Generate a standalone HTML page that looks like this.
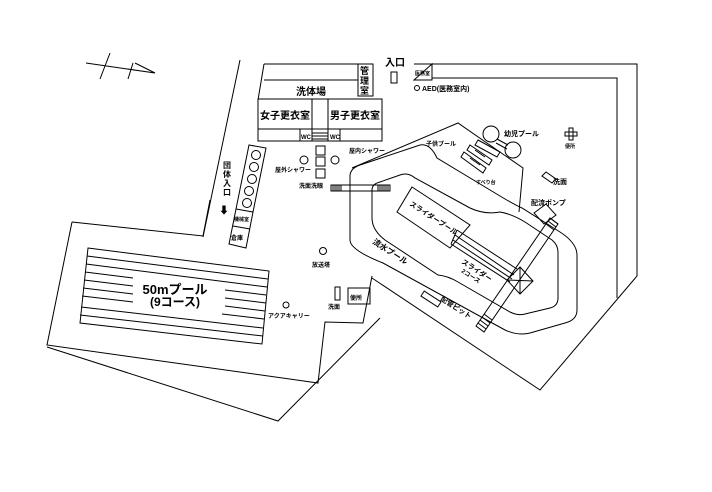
<!DOCTYPE html>
<html><head><meta charset="utf-8"><style>
html,body{margin:0;padding:0;background:#fff;}
svg{display:block;}
text{font-family:"Liberation Sans","Noto Sans CJK JP",sans-serif;font-weight:bold;fill:#000;}
</style></head><body>
<svg width="712" height="492" viewBox="0 0 712 492" xmlns="http://www.w3.org/2000/svg">
<g fill="none" stroke="#000" stroke-width="1">
<path d="M86,63 L155,73 L135,63 M110,53 L100,79 M133,63 L128,79"/>
<path d="M240,60 L203,237"/>
<path d="M72,222 L203,236 L210,200 M72,222 L47,345 L318,383 L325,322 L363,323 L372,276 M47,347 L278,421 L380,318"/>
<path d="M88,248 L269,271 L262,344 L80,323 Z"/>
<path d="M87,256 L268,279 M86,264 L267,287 M85,272 L133,278 M225,290 L266,295 M84,280 L133,286 M225,298 L266,303 M83,288 L133,294 M225,306 L265,311 M82,296 L133,302 M222,314 L264,319 M81,307 L263,328 M80,315 L263,336"/>
<path d="M264,64 L373,64 L373,96 L358,96 L358,64 M358,80 L264,80 M264,64 L258,100"/>
<rect x="258" y="99" width="124" height="42"/>
<path d="M258,129 L382,129 M312,99 L312,141 M328,99 L328,141 M300,129 L300,141 M340,129 L340,141 M312,133 L328,133 M312,136 L328,136 M312,139 L328,139"/>
<rect x="391" y="72" width="6" height="11"/>
<path d="M414,64 L637,64 L637,276 L540,390 L372,278 M432,64 L432,80 L414,80 Z M432,78 L617,78 L617,298"/>
<circle cx="417" cy="88" r="2.5"/>
<path d="M249,145 L266,148 L253,212 L236,209 Z M236,209 L229,244 L246,248 L253,212 M233,226 L250,229"/>
<circle cx="256" cy="155" r="4.5"/><circle cx="254" cy="167" r="4.5"/><circle cx="252" cy="179" r="4.5"/><circle cx="249" cy="191" r="4.5"/><circle cx="247" cy="203" r="4.5"/>
<rect x="316" y="146" width="9" height="9"/><rect x="316" y="157" width="9" height="9"/><rect x="316" y="169" width="9" height="9"/>
<circle cx="304" cy="160" r="4"/><circle cx="335" cy="160" r="4"/>
<circle cx="323" cy="251" r="3.5"/><circle cx="286" cy="305" r="3"/>
<rect x="335" y="287" width="5" height="13"/><rect x="348" y="288" width="22" height="16"/>
<rect x="331" y="185" width="59" height="6"/>
<path d="M333,185v6M335,185v6M337,185v6M339,185v6M341,185v6M378,185v6M380,185v6M382,185v6M384,185v6M386,185v6M388,185v6"/>
<path d="M352,168 L458,123 L523,168 L519,212"/>
<path d="M350,240 L350,175 Q351,168 360,165 L420,145 Q430,143 437,158 L500,196 Q515,205 522,208 L560,232 Q577,243 577,255 L577,310 Q577,320 565,323 L530,333 Q518,336 505,330 L383,263 Q350,250 350,240 Z"/>
<path d="M372,218 L372,190 Q372,184 380,182 L400,175 Q408,172 415,178 L470,208 Q485,215 500,212 Q512,214 525,222 L552,240 Q558,245 558,252 L558,298 Q558,306 550,308 L525,314 Q518,316 510,312 L458,282 Q448,276 438,275 L385,240 Q372,230 372,218 Z"/>
<path d="M412,187 L470,225 L450,248 L397,212 Z"/>
<path d="M457,230 L517,269 M455,235 L514,275 M453,240 L512,279 M451,244 L510,282 M457,230 L451,244"/>
<path d="M476,326 L550,218 L558,224 L484,332 Z"/>
<path d="M478,323l8,6M480,320l8,6M482,317l8,6M484,314l8,6M546,224l8,6M548,221l8,6M550,218l8,6"/>
<path d="M507,280 L520,267 L533,281 L520,294 Z M507,280 L533,281 M520,267 L520,294"/>
<rect x="-10" y="-3" width="20" height="6" transform="translate(431,299) rotate(33)"/>
<path d="M478,140 L500,152 L497,157 L475,145 Z M470,145 L492,160 L489,165 L467,150 Z M464,152 L486,168 L483,173 L461,157 Z M470,158 L480,165 M475,150 L485,157"/>
<circle cx="491" cy="134" r="8"/><circle cx="513" cy="150" r="8"/>
<path d="M497,139 L508,145 M496,143 L507,149"/>
<path d="M569,128h4v4h4v4h-4v4h-4v-4h-4v-4h4z M569,132h4v4h-4z"/>
<path d="M542,176 L546,172 L556,179 L552,183 Z"/>
<path d="M534,213 L546,204 L556,215 L544,224 Z"/>
</g>
<g>
<text x="385" y="66" font-size="10">入口</text>
<text x="415" y="75" font-size="5">医務室</text>
<text x="422" y="91" font-size="7">AED(医務室内)</text>
<text x="360" y="74" font-size="9">管</text><text x="360" y="84" font-size="9">理</text><text x="360" y="94" font-size="9">室</text>
<text x="311" y="95" font-size="10" text-anchor="middle">洗体場</text>
<text x="285" y="119" font-size="10" text-anchor="middle">女子更衣室</text>
<text x="355" y="119" font-size="10" text-anchor="middle">男子更衣室</text>
<text x="301" y="139" font-size="6">WC</text><text x="330" y="139" font-size="6">WC</text>
<text x="349" y="153" font-size="6">屋内シャワー</text>
<text x="275" y="172" font-size="6">屋外シャワー</text>
<text x="299" y="188" font-size="6">洗面洗眼</text>
<text x="312" y="267" font-size="6">放送塔</text>
<text x="268" y="318" font-size="6">アクアキャリー</text>
<text x="328" y="309" font-size="6">洗面</text>
<text x="350" y="300" font-size="6">便所</text>
<text x="234" y="221" font-size="5">機械室</text>
<text x="231" y="240" font-size="6">倉庫</text>
<g font-size="8"><text x="223" y="168">団</text><text x="223" y="177">体</text><text x="223" y="186">入</text><text x="223" y="195">口</text></g>
<text x="219" y="214" font-size="10">⬇</text>
<text x="175" y="294" font-size="13" text-anchor="middle" font-weight="normal">50mプール</text>
<text x="175" y="306" font-size="12" text-anchor="middle" font-weight="normal">(9コース)</text>
<text x="504" y="136" font-size="7">幼児プール</text>
<text x="565" y="148" font-size="5">便所</text>
<text x="426" y="146" font-size="6">子供プール</text>
<text x="476" y="184" font-size="5">すべり台</text>
<text x="553" y="184" font-size="7">洗面</text>
<text x="531" y="205" font-size="7">配流ポンプ</text>
<text transform="translate(409,205) rotate(33)" font-size="7">スライダープール</text>
<text transform="translate(372,243) rotate(33)" font-size="8">流水プール</text>
<text transform="translate(461,263) rotate(33)" font-size="7">スライダー</text>
<text transform="translate(461,272) rotate(33)" font-size="6">2コース</text>
<text transform="translate(440,300) rotate(33)" font-size="7">配管ピット</text>
</g>
</svg>
</body></html>
